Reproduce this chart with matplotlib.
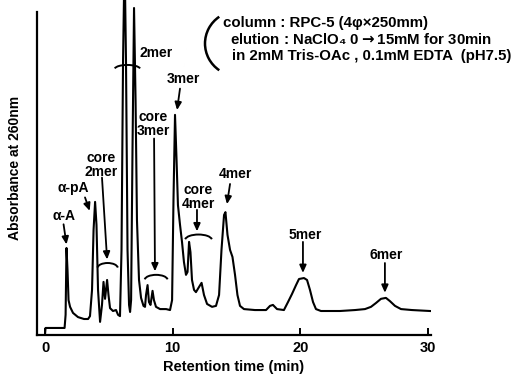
import numpy as np
import matplotlib
matplotlib.use("Agg")
import matplotlib.pyplot as plt
from matplotlib.patches import Arc

plt.rcParams['font.family'] = ['Liberation Sans', 'DejaVu Sans']
plt.rcParams['font.weight'] = 'bold'
plt.rcParams['mathtext.default'] = 'bf'

# Chromatogram trace: retention time (min) vs absorbance at 260 nm (arbitrary units)
time_min = [
    0.00, 0.04, 1.53, 1.61, 1.68, 1.76, 1.84, 1.96, 2.19, 2.58, 3.05, 3.37,
    3.52, 3.68, 3.80, 3.92, 4.03, 4.15, 4.31, 4.46, 4.58, 4.70, 4.86, 4.97,
    5.09, 5.32, 5.56, 5.72, 5.87, 5.99, 6.11, 6.23, 6.34, 6.46, 6.58, 6.66,
    6.74, 6.85, 6.97, 7.09, 7.20, 7.36, 7.52, 7.71, 7.83, 7.91, 8.03, 8.14,
    8.26, 8.42, 8.53, 8.69, 9.01, 9.48, 9.79, 9.95, 10.06, 10.18, 10.30, 10.41,
    10.57, 10.73, 10.88, 11.04, 11.16, 11.28, 11.39, 11.51, 11.67, 11.82, 12.06, 12.26,
    12.45, 12.69, 13.08, 13.39, 13.63, 13.82, 14.02, 14.13, 14.29, 14.49, 14.68, 14.88,
    15.07, 15.27, 15.58, 16.44, 17.31, 17.62, 17.85, 18.17, 18.71, 19.03, 19.34, 19.66,
    19.89, 20.28, 20.52, 20.75, 20.99, 21.22, 21.61, 23.10, 24.28, 25.06, 25.53, 25.92,
    26.31, 26.70, 27.01, 27.41, 27.88, 28.74, 30.15,
]
absorbance = [
    0.3, 2.2, 2.2, 6.3, 27.2, 20.3, 10.9, 8.8, 6.9, 5.6, 5.0, 5.0,
    5.9, 14.1, 32.8, 41.6, 34.4, 14.1, 4.1, 9.4, 16.6, 11.3, 17.2, 12.5,
    8.4, 7.5, 7.8, 6.3, 5.9, 26.6, 85.9, 118.0, 85.9, 26.6, 9.4, 7.2,
    10.9, 57.8, 102.2, 73.4, 35.9, 17.2, 11.6, 9.1, 8.8, 12.5, 15.6, 10.3,
    9.4, 13.8, 10.9, 8.8, 8.1, 8.1, 7.8, 10.9, 42.2, 68.8, 54.7, 40.6,
    34.5, 29.0, 22.8, 18.8, 19.7, 29.1, 25.9, 17.2, 14.1, 13.4, 15.0, 16.3,
    12.5, 9.7, 8.8, 9.1, 12.5, 26.6, 37.5, 38.4, 31.3, 26.6, 24.4, 18.8,
    12.5, 9.1, 8.1, 7.8, 7.8, 9.1, 9.4, 8.1, 7.8, 10.3, 12.8, 15.6,
    17.5, 17.8, 17.2, 14.1, 10.3, 8.1, 7.5, 7.5, 7.8, 8.1, 8.8, 10.0,
    11.3, 11.6, 10.6, 9.1, 8.1, 7.8, 7.5,
]

x_ticks = [0, 10, 20, 30]

# Peak labels: text, label position, arrow start, arrow tip
peak_labels = [
    ("α-A",  (1.49, 37.2), (1.45, 34.6), (1.68, 28.3)),
    ("α-pA", (2.19, 45.9), (3.13, 43.0), (3.50, 38.8)),
    ("3mer", (10.81, 80.0), (10.57, 77.0), (10.34, 70.3)),
    ("4mer", (14.88, 50.3), (14.49, 47.2), (14.25, 40.9)),
    ("5mer", (20.36, 31.3), (20.20, 29.1), (20.20, 19.4)),
    ("6mer", (26.70, 25.0), (26.62, 22.5), (26.62, 13.2)),
]
# Fraction labels pointing at brackets
core_labels = [
    ("core\n2mer", (4.38, 53.2), (4.46, 49.2), (4.86, 23.6)),
    ("core\n3mer", (8.50, 66.1), (8.54, 61.4), (8.61, 19.9)),
    ("core\n4mer", (11.98, 43.0), (11.90, 39.1), (11.90, 32.4)),
]
# Brackets: centre time, centre absorbance, width (min), height
brackets = [
    (4.90, 20.9, 1.60, 3.2),
    (6.45, 83.1, 2.00, 2.6),
    (8.70, 17.2, 1.80, 3.2),
    (12.02, 29.7, 2.10, 3.4),
]

fig = plt.figure(figsize=(5.3, 3.76), dpi=100)
ax = fig.add_axes([37 / 530, 41 / 376, 394 / 530, 335 / 376])

ax.plot(time_min, absorbance, color="black", lw=1.5, solid_joinstyle="round")

ax.set_xlim(-0.63, 30.23)
ax.set_ylim(0, 104.7)
for side in ("top", "right"):
    ax.spines[side].set_visible(False)
ax.spines["left"].set_bounds(0, 100.9)
ax.spines["left"].set_linewidth(1.6)
ax.spines["bottom"].set_linewidth(1.6)
ax.set_yticks([])
ax.set_xticks(x_ticks)
ax.tick_params(axis="x", direction="in", length=5, width=1.4, pad=4, labelsize=10.5)
for lab in ax.get_xticklabels():
    lab.set_fontweight("bold")

ax.set_xlabel("Retention time (min)", fontsize=10.5, fontweight="bold", labelpad=4)
ax.set_ylabel("Absorbance at 260nm", fontsize=10, fontweight="bold", labelpad=11)

arrow_style = dict(arrowstyle="-|>,head_length=0.45,head_width=0.2", lw=1.3,
                   color="black", shrinkA=0, shrinkB=0)

for text, pos, start, tip in peak_labels + core_labels:
    ax.text(pos[0], pos[1], text, ha="center", va="center", fontsize=10,
            fontweight="bold", linespacing=1.0)
    ax.annotate("", xy=tip, xytext=start, arrowprops=arrow_style)

ax.text(7.40, 88.1, "2mer", ha="left", va="center", fontsize=10, fontweight="bold")

for cx, cy, w, h in brackets:
    ax.add_patch(Arc((cx, cy), w, h, theta1=12, theta2=168, lw=1.4, color="black"))

# Column conditions block
fig.add_artist(Arc((2.38, 3.325), 0.66, 0.65, theta1=125, theta2=235, lw=1.8,
                   color="black", transform=fig.dpi_scale_trans))
cond_lines = [
    (223, 23.5, "column : RPC-5 (4φ×250mm)"),
    (230, 39.0, "elution : NaClO₄ 0$\\rightarrow$15mM for 30min"),
    (232, 56.0, "in 2mM Tris-OAc , 0.1mM EDTA  (pH7.5)"),
]
for x, y, s in cond_lines:
    fig.text(x / 530, 1 - y / 376, s, ha="left", va="center", fontsize=10.8,
             fontweight="bold")

fig.savefig("out.png", dpi=100)
